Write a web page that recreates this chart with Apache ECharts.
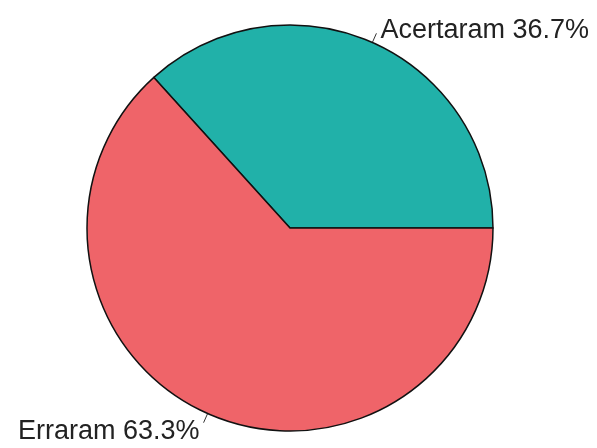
<!DOCTYPE html>
<html>
<head>
<meta charset="utf-8">
<script src="https://cdn.jsdelivr.net/npm/echarts@6/dist/echarts.min.js"></script>
<style>
html,body{margin:0;padding:0;background:#fff;}
#chart{width:597px;height:448px;}
</style>
</head>
<body>
<div id="chart"></div>
<script>
const categories = ['Acertaram', 'Erraram'];
const values = [36.7, 63.3];
const colors = ['#21b1a9', '#ef6469'];
const labelShiftY = [-3, 9];

const chart = echarts.init(document.getElementById('chart'));
chart.setOption({
  backgroundColor: '#ffffff',
  animation: false,
  series: [{
    type: 'pie',
    center: [290, 228],
    radius: 203,
    startAngle: 0,
    clockwise: false,
    avoidLabelOverlap: false,
    itemStyle: { borderColor: '#111', borderWidth: 1.5 },
    label: {
      show: true,
      position: 'outside',
      fontFamily: 'Liberation Sans, Arial, sans-serif',
      fontSize: 27,
      color: '#222',
      distanceToLabelLine: 4,
      formatter: p => p.name + ' ' + p.percent.toFixed(1) + '%'
    },
    labelLine: {
      show: true,
      length: 10,
      length2: 0,
      lineStyle: { color: '#333', width: 1 }
    },
    labelLayout: p => ({ dy: labelShiftY[p.dataIndex] }),
    emphasis: { disabled: true },
    data: categories.map((c, i) => ({
      name: c,
      value: values[i],
      itemStyle: { color: colors[i] }
    }))
  }]
});
</script>
</body>
</html>
